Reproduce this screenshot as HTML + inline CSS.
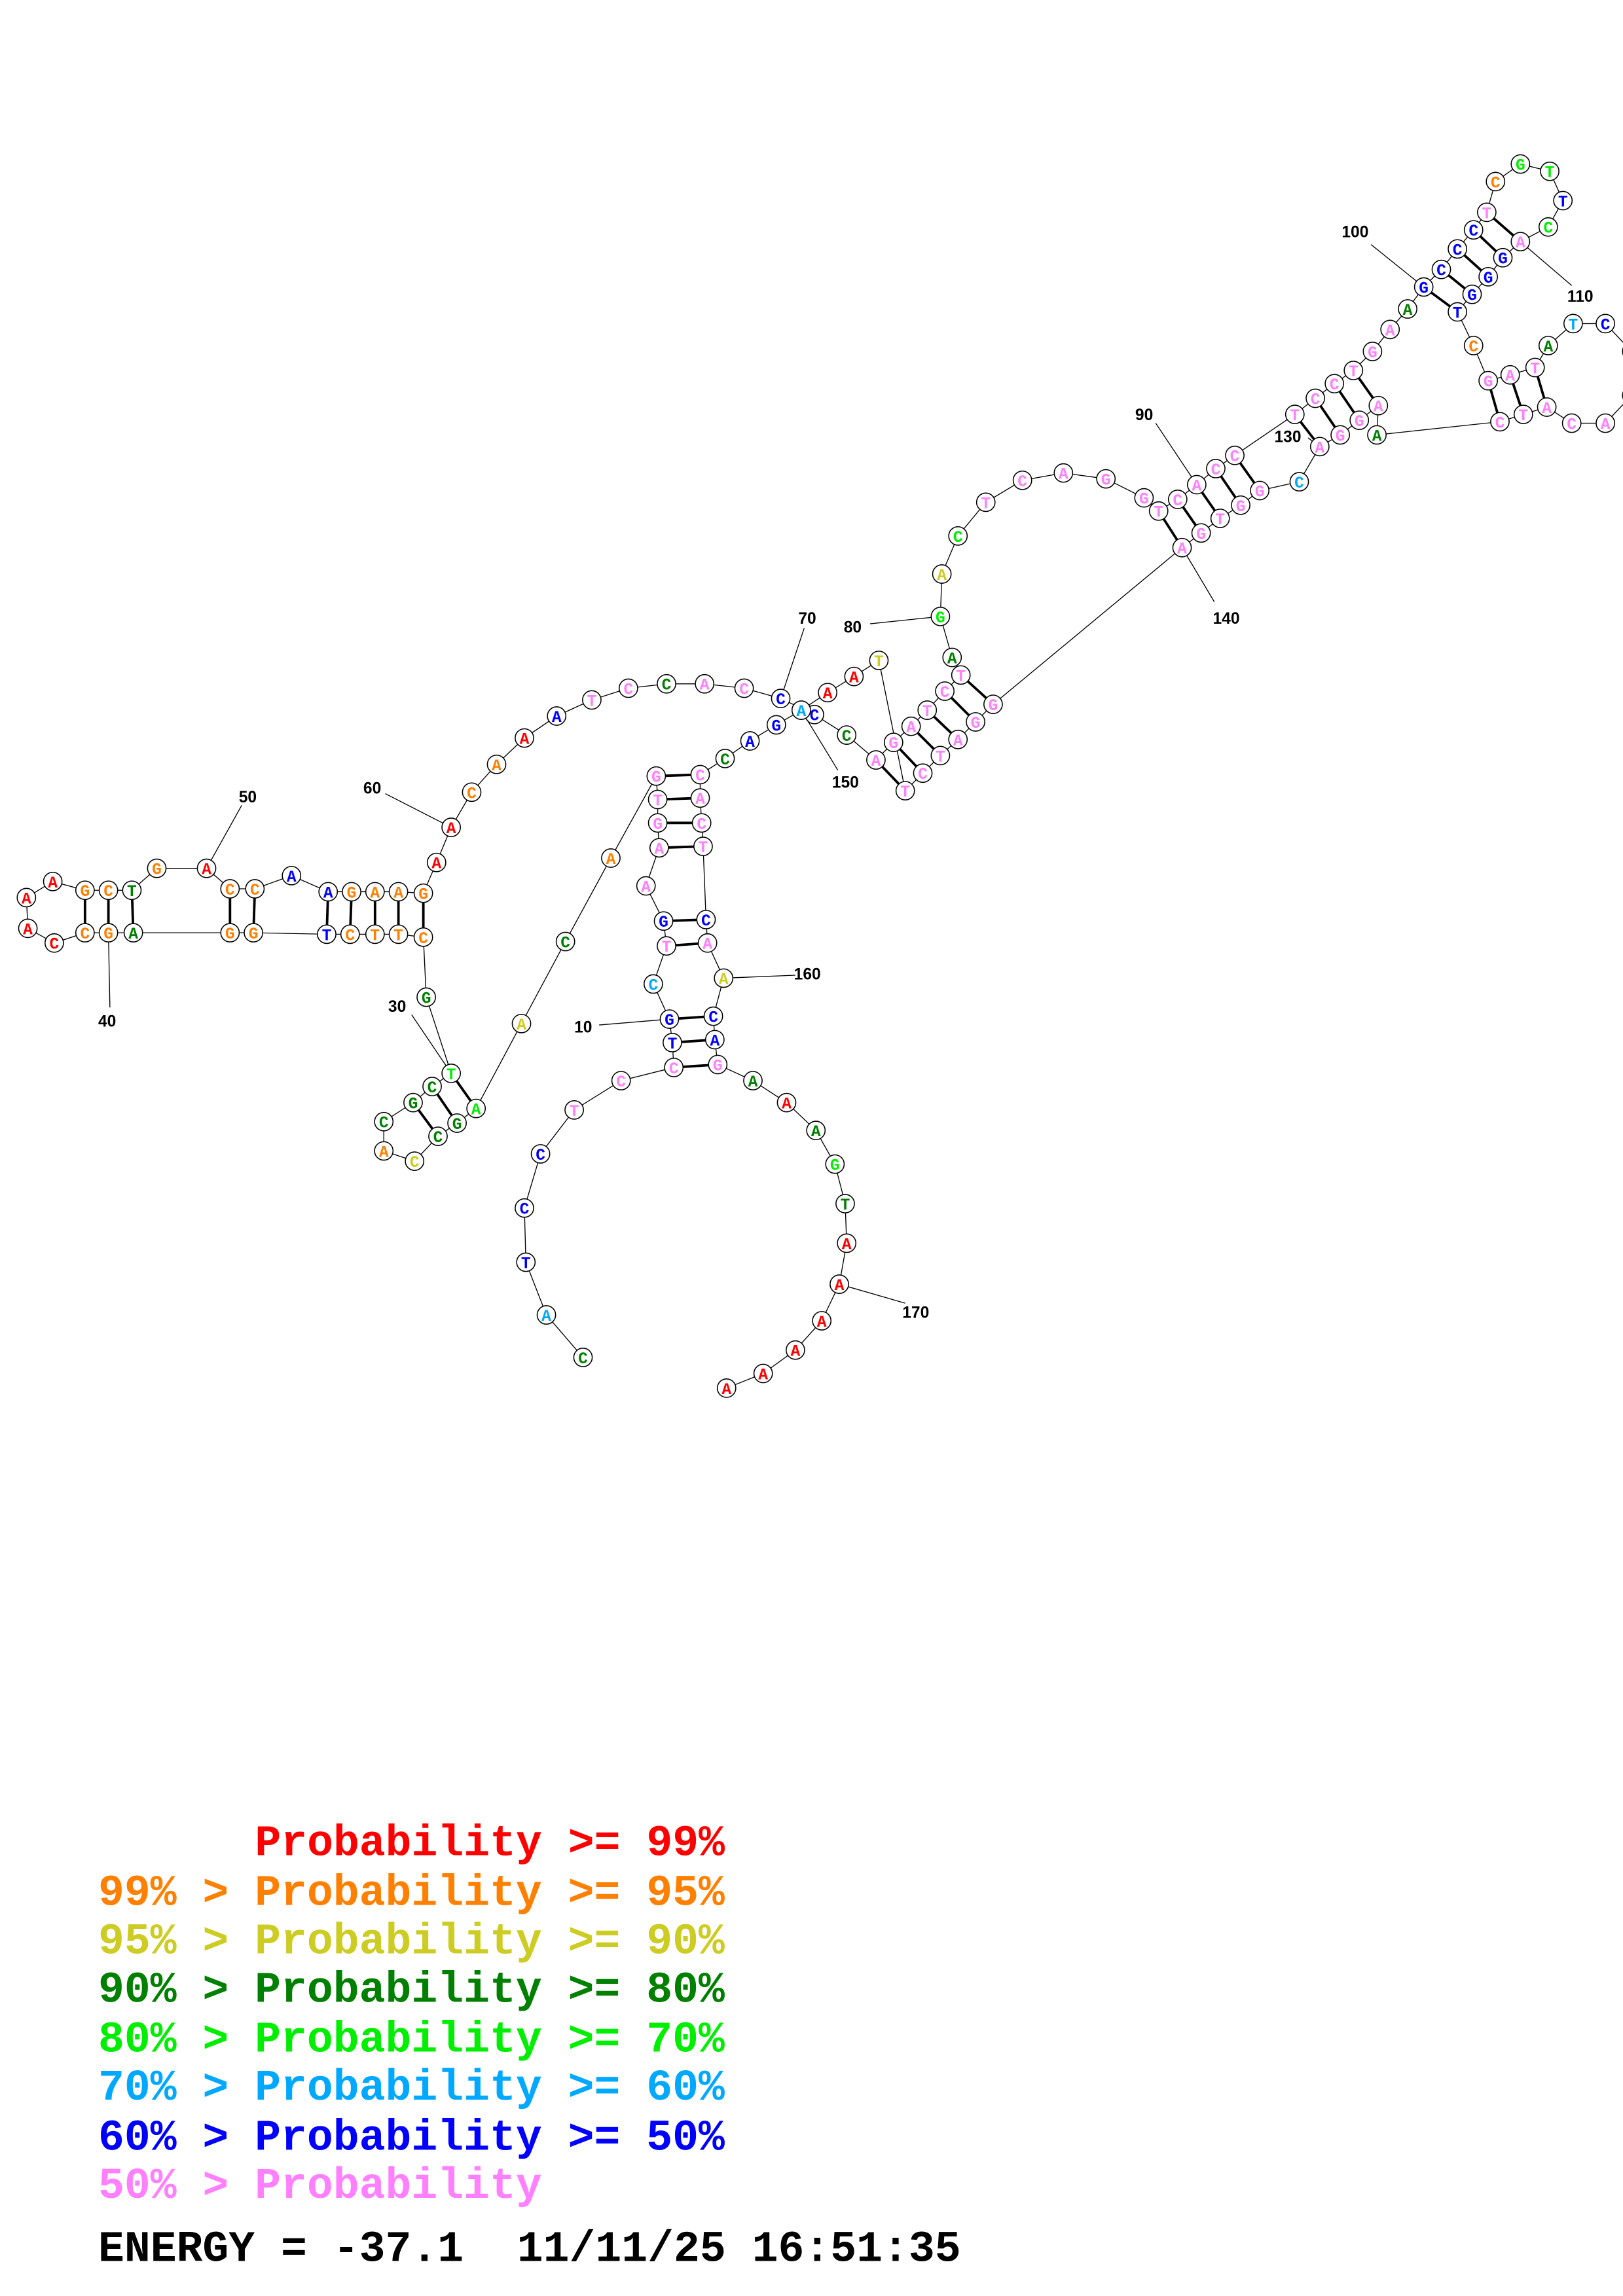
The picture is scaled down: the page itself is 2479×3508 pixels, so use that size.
<!DOCTYPE html>
<html><head><meta charset="utf-8"><style>
html,body{margin:0;padding:0;background:#fff;}
svg{display:block}
.n circle{fill:#fff;stroke:#000;stroke-width:0.7}
.n text{font-family:"Liberation Mono",monospace;font-weight:bold;font-size:11px;text-anchor:middle}
.lab{font-family:"Liberation Sans",sans-serif;font-weight:bold;font-size:11px;fill:#000}
.leg{font-family:"Liberation Mono",monospace;font-weight:bold;font-size:29.7px}
</style></head><body>
<svg width="2479" height="3508" viewBox="0 0 1108 1568" xmlns="http://www.w3.org/2000/svg">
<rect width="1108" height="1568" fill="#fff"/>
<polyline fill="none" stroke="#000" stroke-width="0.6" points="398,927 373,898 359,862 358,825 369,788 392,758 424,738 460,729 459,712 457,696 446,672 455,646 453,629 441,605 450,579 449,562 449,546 448,530 417,586 386,643 356,699 325,757 312,767 299,776 283,793 262,786 262,766 282,753 295,742 308,733 291,681 289,640 272,638 256,638 239,638 223,638 173,637 157,637 91,637 74,637 58,637 37,644 19,634 18,613 36,602 58,608 74,608 90,608 107,593 141,593 157,607 174,607 199,598 224,609 240,609 256,609 272,609 289,610 298,589 308,565 322,541 339,522 358,504 380,489 404,478 429,470 455,467 481,467 508,470 533,477 556,488 578,502 598,519 610,507 622,496 633,485 645,472 656,461 650,449 642,421 643,392 654,366 673,343 698,328 726,323 755,327 781,340 791,349 804,341 817,331 830,320 843,311 884,283 898,272 911,262 924,253 937,240 949,225 961,211 972,196 984,184 995,170 1006,157 1015,145 1021,124 1038,112 1058,117 1067,137 1057,155 1038,165 1026,176 1016,189 1005,201 995,213 1006,236 1016,260 1031,256 1048,251 1057,236 1074,221 1096,221 1114,240 1114,270 1096,289 1073,289 1056,278 1040,283 1024,288 940,297 941,277 928,287 915,297 901,305 887,329 860,335 847,345 833,354 820,364 807,374 678,481 666,493 654,505 642,516 630,528 618,540 600,451 583,462 565,473 547,485 530,495 512,506 495,518 478,529 478,545 479,562 480,578 482,628 483,644 494,668 487,694 488,710 490,727 514,738 537,753 557,772 570,795 577,822 578,849 573,877 561,902 543,922 521,938 496,948"/>
<g stroke="#000" stroke-width="1.7">
<line x1="460" y1="729" x2="490" y2="727"/><line x1="459" y1="712" x2="488" y2="710"/><line x1="457" y1="696" x2="487" y2="694"/>
<line x1="455" y1="646" x2="483" y2="644"/><line x1="453" y1="629" x2="482" y2="628"/>
<line x1="450" y1="579" x2="480" y2="578"/><line x1="449" y1="562" x2="479" y2="562"/><line x1="449" y1="546" x2="478" y2="545"/><line x1="448" y1="530" x2="478" y2="529"/>
<line x1="325" y1="757" x2="308" y2="733"/><line x1="312" y1="767" x2="295" y2="742"/><line x1="299" y1="776" x2="282" y2="753"/>
<line x1="289" y1="640" x2="289" y2="610"/><line x1="272" y1="638" x2="272" y2="609"/><line x1="256" y1="638" x2="256" y2="609"/><line x1="239" y1="638" x2="240" y2="609"/><line x1="223" y1="638" x2="224" y2="609"/>
<line x1="173" y1="637" x2="174" y2="607"/><line x1="157" y1="637" x2="157" y2="607"/>
<line x1="91" y1="637" x2="90" y2="608"/><line x1="74" y1="637" x2="74" y2="608"/><line x1="58" y1="637" x2="58" y2="608"/>
<line x1="598" y1="519" x2="618" y2="540"/><line x1="610" y1="507" x2="630" y2="528"/><line x1="622" y1="496" x2="642" y2="516"/><line x1="633" y1="485" x2="654" y2="505"/><line x1="645" y1="472" x2="666" y2="493"/><line x1="656" y1="461" x2="678" y2="481"/>
<line x1="791" y1="349" x2="807" y2="374"/><line x1="804" y1="341" x2="820" y2="364"/><line x1="817" y1="331" x2="833" y2="354"/><line x1="830" y1="320" x2="847" y2="345"/><line x1="843" y1="311" x2="860" y2="335"/>
<line x1="884" y1="283" x2="901" y2="305"/><line x1="898" y1="272" x2="915" y2="297"/><line x1="911" y1="262" x2="928" y2="287"/><line x1="924" y1="253" x2="941" y2="277"/>
<line x1="972" y1="196" x2="995" y2="213"/><line x1="984" y1="184" x2="1005" y2="201"/><line x1="995" y1="170" x2="1016" y2="189"/><line x1="1006" y1="157" x2="1026" y2="176"/><line x1="1015" y1="145" x2="1038" y2="165"/>
<line x1="1016" y1="260" x2="1024" y2="288"/><line x1="1031" y1="256" x2="1040" y2="283"/><line x1="1048" y1="251" x2="1056" y2="278"/>
</g>
<g stroke="#000" stroke-width="0.6">
<line x1="409" y1="700" x2="457" y2="696"/><line x1="281" y1="693" x2="308" y2="733"/><line x1="75" y1="688" x2="74" y2="637"/>
<line x1="165" y1="550" x2="141" y2="593"/><line x1="263" y1="542" x2="308" y2="565"/><line x1="549" y1="429" x2="533" y2="477"/>
<line x1="594" y1="426" x2="642" y2="421"/><line x1="789" y1="289" x2="817" y2="331"/><line x1="936" y1="167" x2="972" y2="196"/>
<line x1="1073" y1="195" x2="1038" y2="165"/><line x1="893" y1="299" x2="901" y2="305"/><line x1="829" y1="411" x2="807" y2="374"/>
<line x1="572" y1="526" x2="547" y2="485"/><line x1="543" y1="666" x2="494" y2="668"/><line x1="618" y1="890" x2="573" y2="877"/>
</g>
<g class="lab">
<text x="392" y="705">10</text><text x="265" y="691">30</text><text x="67" y="701">40</text><text x="163" y="548">50</text>
<text x="248" y="542">60</text><text x="545" y="426">70</text><text x="576" y="432">80</text><text x="775" y="287">90</text>
<text x="916" y="162">100</text><text x="1070" y="206">110</text><text x="870" y="302">130</text><text x="828" y="426">140</text>
<text x="568" y="538">150</text><text x="542" y="669">160</text><text x="616" y="900">170</text>
</g>
<g class="n">
<g fill="#008000"><circle cx="398" cy="927" r="6.3"/><text x="398" y="931">C</text></g>
<g fill="#00a8ff"><circle cx="373" cy="898" r="6.3"/><text x="373" y="902">A</text></g>
<g fill="#0000ff"><circle cx="359" cy="862" r="6.3"/><text x="359" y="866">T</text></g>
<g fill="#0000ff"><circle cx="358" cy="825" r="6.3"/><text x="358" y="829">C</text></g>
<g fill="#0000ff"><circle cx="369" cy="788" r="6.3"/><text x="369" y="792">C</text></g>
<g fill="#ff80ff"><circle cx="392" cy="758" r="6.3"/><text x="392" y="762">T</text></g>
<g fill="#ff80ff"><circle cx="424" cy="738" r="6.3"/><text x="424" y="742">C</text></g>
<g fill="#ff80ff"><circle cx="460" cy="729" r="6.3"/><text x="460" y="733">C</text></g>
<g fill="#0000ff"><circle cx="459" cy="712" r="6.3"/><text x="459" y="716">T</text></g>
<g fill="#0000ff"><circle cx="457" cy="696" r="6.3"/><text x="457" y="700">G</text></g>
<g fill="#00a8ff"><circle cx="446" cy="672" r="6.3"/><text x="446" y="676">C</text></g>
<g fill="#ff80ff"><circle cx="455" cy="646" r="6.3"/><text x="455" y="650">T</text></g>
<g fill="#0000ff"><circle cx="453" cy="629" r="6.3"/><text x="453" y="633">G</text></g>
<g fill="#ff80ff"><circle cx="441" cy="605" r="6.3"/><text x="441" y="609">A</text></g>
<g fill="#ff80ff"><circle cx="450" cy="579" r="6.3"/><text x="450" y="583">A</text></g>
<g fill="#ff80ff"><circle cx="449" cy="562" r="6.3"/><text x="449" y="566">G</text></g>
<g fill="#ff80ff"><circle cx="449" cy="546" r="6.3"/><text x="449" y="550">T</text></g>
<g fill="#ff80ff"><circle cx="448" cy="530" r="6.3"/><text x="448" y="534">G</text></g>
<g fill="#ff8000"><circle cx="417" cy="586" r="6.3"/><text x="417" y="590">A</text></g>
<g fill="#008000"><circle cx="386" cy="643" r="6.3"/><text x="386" y="647">C</text></g>
<g fill="#cccc22"><circle cx="356" cy="699" r="6.3"/><text x="356" y="703">A</text></g>
<g fill="#00ee00"><circle cx="325" cy="757" r="6.3"/><text x="325" y="761">A</text></g>
<g fill="#008000"><circle cx="312" cy="767" r="6.3"/><text x="312" y="771">G</text></g>
<g fill="#008000"><circle cx="299" cy="776" r="6.3"/><text x="299" y="780">C</text></g>
<g fill="#cccc22"><circle cx="283" cy="793" r="6.3"/><text x="283" y="797">C</text></g>
<g fill="#ff8000"><circle cx="262" cy="786" r="6.3"/><text x="262" y="790">A</text></g>
<g fill="#008000"><circle cx="262" cy="766" r="6.3"/><text x="262" y="770">C</text></g>
<g fill="#008000"><circle cx="282" cy="753" r="6.3"/><text x="282" y="757">G</text></g>
<g fill="#008000"><circle cx="295" cy="742" r="6.3"/><text x="295" y="746">C</text></g>
<g fill="#00ee00"><circle cx="308" cy="733" r="6.3"/><text x="308" y="737">T</text></g>
<g fill="#008000"><circle cx="291" cy="681" r="6.3"/><text x="291" y="685">G</text></g>
<g fill="#ff8000"><circle cx="289" cy="640" r="6.3"/><text x="289" y="644">C</text></g>
<g fill="#ff8000"><circle cx="272" cy="638" r="6.3"/><text x="272" y="642">T</text></g>
<g fill="#ff8000"><circle cx="256" cy="638" r="6.3"/><text x="256" y="642">T</text></g>
<g fill="#ff8000"><circle cx="239" cy="638" r="6.3"/><text x="239" y="642">C</text></g>
<g fill="#0000ff"><circle cx="223" cy="638" r="6.3"/><text x="223" y="642">T</text></g>
<g fill="#ff8000"><circle cx="173" cy="637" r="6.3"/><text x="173" y="641">G</text></g>
<g fill="#ff8000"><circle cx="157" cy="637" r="6.3"/><text x="157" y="641">G</text></g>
<g fill="#008000"><circle cx="91" cy="637" r="6.3"/><text x="91" y="641">A</text></g>
<g fill="#ff8000"><circle cx="74" cy="637" r="6.3"/><text x="74" y="641">G</text></g>
<g fill="#ff8000"><circle cx="58" cy="637" r="6.3"/><text x="58" y="641">C</text></g>
<g fill="#ff0000"><circle cx="37" cy="644" r="6.3"/><text x="37" y="648">C</text></g>
<g fill="#ff0000"><circle cx="19" cy="634" r="6.3"/><text x="19" y="638">A</text></g>
<g fill="#ff0000"><circle cx="18" cy="613" r="6.3"/><text x="18" y="617">A</text></g>
<g fill="#ff0000"><circle cx="36" cy="602" r="6.3"/><text x="36" y="606">A</text></g>
<g fill="#ff8000"><circle cx="58" cy="608" r="6.3"/><text x="58" y="612">G</text></g>
<g fill="#ff8000"><circle cx="74" cy="608" r="6.3"/><text x="74" y="612">C</text></g>
<g fill="#008000"><circle cx="90" cy="608" r="6.3"/><text x="90" y="612">T</text></g>
<g fill="#ff8000"><circle cx="107" cy="593" r="6.3"/><text x="107" y="597">G</text></g>
<g fill="#ff0000"><circle cx="141" cy="593" r="6.3"/><text x="141" y="597">A</text></g>
<g fill="#ff8000"><circle cx="157" cy="607" r="6.3"/><text x="157" y="611">C</text></g>
<g fill="#ff8000"><circle cx="174" cy="607" r="6.3"/><text x="174" y="611">C</text></g>
<g fill="#0000ff"><circle cx="199" cy="598" r="6.3"/><text x="199" y="602">A</text></g>
<g fill="#0000ff"><circle cx="224" cy="609" r="6.3"/><text x="224" y="613">A</text></g>
<g fill="#ff8000"><circle cx="240" cy="609" r="6.3"/><text x="240" y="613">G</text></g>
<g fill="#ff8000"><circle cx="256" cy="609" r="6.3"/><text x="256" y="613">A</text></g>
<g fill="#ff8000"><circle cx="272" cy="609" r="6.3"/><text x="272" y="613">A</text></g>
<g fill="#ff8000"><circle cx="289" cy="610" r="6.3"/><text x="289" y="614">G</text></g>
<g fill="#ff0000"><circle cx="298" cy="589" r="6.3"/><text x="298" y="593">A</text></g>
<g fill="#ff0000"><circle cx="308" cy="565" r="6.3"/><text x="308" y="569">A</text></g>
<g fill="#ff8000"><circle cx="322" cy="541" r="6.3"/><text x="322" y="545">C</text></g>
<g fill="#ff8000"><circle cx="339" cy="522" r="6.3"/><text x="339" y="526">A</text></g>
<g fill="#ff0000"><circle cx="358" cy="504" r="6.3"/><text x="358" y="508">A</text></g>
<g fill="#0000ff"><circle cx="380" cy="489" r="6.3"/><text x="380" y="493">A</text></g>
<g fill="#ff80ff"><circle cx="404" cy="478" r="6.3"/><text x="404" y="482">T</text></g>
<g fill="#ff80ff"><circle cx="429" cy="470" r="6.3"/><text x="429" y="474">C</text></g>
<g fill="#008000"><circle cx="455" cy="467" r="6.3"/><text x="455" y="471">C</text></g>
<g fill="#ff80ff"><circle cx="481" cy="467" r="6.3"/><text x="481" y="471">A</text></g>
<g fill="#ff80ff"><circle cx="508" cy="470" r="6.3"/><text x="508" y="474">C</text></g>
<g fill="#0000ff"><circle cx="533" cy="477" r="6.3"/><text x="533" y="481">C</text></g>
<g fill="#0000ff"><circle cx="556" cy="488" r="6.3"/><text x="556" y="492">C</text></g>
<g fill="#008000"><circle cx="578" cy="502" r="6.3"/><text x="578" y="506">C</text></g>
<g fill="#ff80ff"><circle cx="598" cy="519" r="6.3"/><text x="598" y="523">A</text></g>
<g fill="#ff80ff"><circle cx="610" cy="507" r="6.3"/><text x="610" y="511">G</text></g>
<g fill="#ff80ff"><circle cx="622" cy="496" r="6.3"/><text x="622" y="500">A</text></g>
<g fill="#ff80ff"><circle cx="633" cy="485" r="6.3"/><text x="633" y="489">T</text></g>
<g fill="#ff80ff"><circle cx="645" cy="472" r="6.3"/><text x="645" y="476">C</text></g>
<g fill="#ff80ff"><circle cx="656" cy="461" r="6.3"/><text x="656" y="465">T</text></g>
<g fill="#008000"><circle cx="650" cy="449" r="6.3"/><text x="650" y="453">A</text></g>
<g fill="#00ee00"><circle cx="642" cy="421" r="6.3"/><text x="642" y="425">G</text></g>
<g fill="#cccc22"><circle cx="643" cy="392" r="6.3"/><text x="643" y="396">A</text></g>
<g fill="#00ee00"><circle cx="654" cy="366" r="6.3"/><text x="654" y="370">C</text></g>
<g fill="#ff80ff"><circle cx="673" cy="343" r="6.3"/><text x="673" y="347">T</text></g>
<g fill="#ff80ff"><circle cx="698" cy="328" r="6.3"/><text x="698" y="332">C</text></g>
<g fill="#ff80ff"><circle cx="726" cy="323" r="6.3"/><text x="726" y="327">A</text></g>
<g fill="#ff80ff"><circle cx="755" cy="327" r="6.3"/><text x="755" y="331">G</text></g>
<g fill="#ff80ff"><circle cx="781" cy="340" r="6.3"/><text x="781" y="344">G</text></g>
<g fill="#ff80ff"><circle cx="791" cy="349" r="6.3"/><text x="791" y="353">T</text></g>
<g fill="#ff80ff"><circle cx="804" cy="341" r="6.3"/><text x="804" y="345">C</text></g>
<g fill="#ff80ff"><circle cx="817" cy="331" r="6.3"/><text x="817" y="335">A</text></g>
<g fill="#ff80ff"><circle cx="830" cy="320" r="6.3"/><text x="830" y="324">C</text></g>
<g fill="#ff80ff"><circle cx="843" cy="311" r="6.3"/><text x="843" y="315">C</text></g>
<g fill="#ff80ff"><circle cx="884" cy="283" r="6.3"/><text x="884" y="287">T</text></g>
<g fill="#ff80ff"><circle cx="898" cy="272" r="6.3"/><text x="898" y="276">C</text></g>
<g fill="#ff80ff"><circle cx="911" cy="262" r="6.3"/><text x="911" y="266">C</text></g>
<g fill="#ff80ff"><circle cx="924" cy="253" r="6.3"/><text x="924" y="257">T</text></g>
<g fill="#ff80ff"><circle cx="937" cy="240" r="6.3"/><text x="937" y="244">G</text></g>
<g fill="#ff80ff"><circle cx="949" cy="225" r="6.3"/><text x="949" y="229">A</text></g>
<g fill="#008000"><circle cx="961" cy="211" r="6.3"/><text x="961" y="215">A</text></g>
<g fill="#0000ff"><circle cx="972" cy="196" r="6.3"/><text x="972" y="200">G</text></g>
<g fill="#0000ff"><circle cx="984" cy="184" r="6.3"/><text x="984" y="188">C</text></g>
<g fill="#0000ff"><circle cx="995" cy="170" r="6.3"/><text x="995" y="174">C</text></g>
<g fill="#0000ff"><circle cx="1006" cy="157" r="6.3"/><text x="1006" y="161">C</text></g>
<g fill="#ff80ff"><circle cx="1015" cy="145" r="6.3"/><text x="1015" y="149">T</text></g>
<g fill="#ff8000"><circle cx="1021" cy="124" r="6.3"/><text x="1021" y="128">C</text></g>
<g fill="#00ee00"><circle cx="1038" cy="112" r="6.3"/><text x="1038" y="116">G</text></g>
<g fill="#00ee00"><circle cx="1058" cy="117" r="6.3"/><text x="1058" y="121">T</text></g>
<g fill="#0000ff"><circle cx="1067" cy="137" r="6.3"/><text x="1067" y="141">T</text></g>
<g fill="#00ee00"><circle cx="1057" cy="155" r="6.3"/><text x="1057" y="159">C</text></g>
<g fill="#ff80ff"><circle cx="1038" cy="165" r="6.3"/><text x="1038" y="169">A</text></g>
<g fill="#0000ff"><circle cx="1026" cy="176" r="6.3"/><text x="1026" y="180">G</text></g>
<g fill="#0000ff"><circle cx="1016" cy="189" r="6.3"/><text x="1016" y="193">G</text></g>
<g fill="#0000ff"><circle cx="1005" cy="201" r="6.3"/><text x="1005" y="205">G</text></g>
<g fill="#0000ff"><circle cx="995" cy="213" r="6.3"/><text x="995" y="217">T</text></g>
<g fill="#ff8000"><circle cx="1006" cy="236" r="6.3"/><text x="1006" y="240">C</text></g>
<g fill="#ff80ff"><circle cx="1016" cy="260" r="6.3"/><text x="1016" y="264">G</text></g>
<g fill="#ff80ff"><circle cx="1031" cy="256" r="6.3"/><text x="1031" y="260">A</text></g>
<g fill="#ff80ff"><circle cx="1048" cy="251" r="6.3"/><text x="1048" y="255">T</text></g>
<g fill="#008000"><circle cx="1057" cy="236" r="6.3"/><text x="1057" y="240">A</text></g>
<g fill="#00a8ff"><circle cx="1074" cy="221" r="6.3"/><text x="1074" y="225">T</text></g>
<g fill="#0000ff"><circle cx="1096" cy="221" r="6.3"/><text x="1096" y="225">C</text></g>
<g fill="#ff80ff"><circle cx="1114" cy="240" r="6.3"/></g>
<g fill="#ff80ff"><circle cx="1114" cy="270" r="6.3"/></g>
<g fill="#ff80ff"><circle cx="1096" cy="289" r="6.3"/><text x="1096" y="293">A</text></g>
<g fill="#ff80ff"><circle cx="1073" cy="289" r="6.3"/><text x="1073" y="293">C</text></g>
<g fill="#ff80ff"><circle cx="1056" cy="278" r="6.3"/><text x="1056" y="282">A</text></g>
<g fill="#ff80ff"><circle cx="1040" cy="283" r="6.3"/><text x="1040" y="287">T</text></g>
<g fill="#ff80ff"><circle cx="1024" cy="288" r="6.3"/><text x="1024" y="292">C</text></g>
<g fill="#008000"><circle cx="940" cy="297" r="6.3"/><text x="940" y="301">A</text></g>
<g fill="#ff80ff"><circle cx="941" cy="277" r="6.3"/><text x="941" y="281">A</text></g>
<g fill="#ff80ff"><circle cx="928" cy="287" r="6.3"/><text x="928" y="291">G</text></g>
<g fill="#ff80ff"><circle cx="915" cy="297" r="6.3"/><text x="915" y="301">G</text></g>
<g fill="#ff80ff"><circle cx="901" cy="305" r="6.3"/><text x="901" y="309">A</text></g>
<g fill="#00a8ff"><circle cx="887" cy="329" r="6.3"/><text x="887" y="333">C</text></g>
<g fill="#ff80ff"><circle cx="860" cy="335" r="6.3"/><text x="860" y="339">G</text></g>
<g fill="#ff80ff"><circle cx="847" cy="345" r="6.3"/><text x="847" y="349">G</text></g>
<g fill="#ff80ff"><circle cx="833" cy="354" r="6.3"/><text x="833" y="358">T</text></g>
<g fill="#ff80ff"><circle cx="820" cy="364" r="6.3"/><text x="820" y="368">G</text></g>
<g fill="#ff80ff"><circle cx="807" cy="374" r="6.3"/><text x="807" y="378">A</text></g>
<g fill="#ff80ff"><circle cx="678" cy="481" r="6.3"/><text x="678" y="485">G</text></g>
<g fill="#ff80ff"><circle cx="666" cy="493" r="6.3"/><text x="666" y="497">G</text></g>
<g fill="#ff80ff"><circle cx="654" cy="505" r="6.3"/><text x="654" y="509">A</text></g>
<g fill="#ff80ff"><circle cx="642" cy="516" r="6.3"/><text x="642" y="520">T</text></g>
<g fill="#ff80ff"><circle cx="630" cy="528" r="6.3"/><text x="630" y="532">C</text></g>
<g fill="#ff80ff"><circle cx="618" cy="540" r="6.3"/><text x="618" y="544">T</text></g>
<g fill="#cccc22"><circle cx="600" cy="451" r="6.3"/><text x="600" y="455">T</text></g>
<g fill="#ff0000"><circle cx="583" cy="462" r="6.3"/><text x="583" y="466">A</text></g>
<g fill="#ff0000"><circle cx="565" cy="473" r="6.3"/><text x="565" y="477">A</text></g>
<g fill="#00a8ff"><circle cx="547" cy="485" r="6.3"/><text x="547" y="489">A</text></g>
<g fill="#0000ff"><circle cx="530" cy="495" r="6.3"/><text x="530" y="499">G</text></g>
<g fill="#0000ff"><circle cx="512" cy="506" r="6.3"/><text x="512" y="510">A</text></g>
<g fill="#008000"><circle cx="495" cy="518" r="6.3"/><text x="495" y="522">C</text></g>
<g fill="#ff80ff"><circle cx="478" cy="529" r="6.3"/><text x="478" y="533">C</text></g>
<g fill="#ff80ff"><circle cx="478" cy="545" r="6.3"/><text x="478" y="549">A</text></g>
<g fill="#ff80ff"><circle cx="479" cy="562" r="6.3"/><text x="479" y="566">C</text></g>
<g fill="#ff80ff"><circle cx="480" cy="578" r="6.3"/><text x="480" y="582">T</text></g>
<g fill="#0000ff"><circle cx="482" cy="628" r="6.3"/><text x="482" y="632">C</text></g>
<g fill="#ff80ff"><circle cx="483" cy="644" r="6.3"/><text x="483" y="648">A</text></g>
<g fill="#cccc22"><circle cx="494" cy="668" r="6.3"/><text x="494" y="672">A</text></g>
<g fill="#0000ff"><circle cx="487" cy="694" r="6.3"/><text x="487" y="698">C</text></g>
<g fill="#0000ff"><circle cx="488" cy="710" r="6.3"/><text x="488" y="714">A</text></g>
<g fill="#ff80ff"><circle cx="490" cy="727" r="6.3"/><text x="490" y="731">G</text></g>
<g fill="#008000"><circle cx="514" cy="738" r="6.3"/><text x="514" y="742">A</text></g>
<g fill="#ff0000"><circle cx="537" cy="753" r="6.3"/><text x="537" y="757">A</text></g>
<g fill="#008000"><circle cx="557" cy="772" r="6.3"/><text x="557" y="776">A</text></g>
<g fill="#00ee00"><circle cx="570" cy="795" r="6.3"/><text x="570" y="799">G</text></g>
<g fill="#008000"><circle cx="577" cy="822" r="6.3"/><text x="577" y="826">T</text></g>
<g fill="#ff0000"><circle cx="578" cy="849" r="6.3"/><text x="578" y="853">A</text></g>
<g fill="#ff0000"><circle cx="573" cy="877" r="6.3"/><text x="573" y="881">A</text></g>
<g fill="#ff0000"><circle cx="561" cy="902" r="6.3"/><text x="561" y="906">A</text></g>
<g fill="#ff0000"><circle cx="543" cy="922" r="6.3"/><text x="543" y="926">A</text></g>
<g fill="#ff0000"><circle cx="521" cy="938" r="6.3"/><text x="521" y="942">A</text></g>
<g fill="#ff0000"><circle cx="496" cy="948" r="6.3"/><text x="496" y="952">A</text></g>
</g>
<g class="leg">
<text x="174" y="1267" fill="#ff0000">Probability &gt;= 99%</text>
<text x="67" y="1301" fill="#ff8000">99% &gt; Probability &gt;= 95%</text>
<text x="67" y="1334" fill="#cccc22">95% &gt; Probability &gt;= 90%</text>
<text x="67" y="1367" fill="#008000">90% &gt; Probability &gt;= 80%</text>
<text x="67" y="1401" fill="#00ee00">80% &gt; Probability &gt;= 70%</text>
<text x="67" y="1434" fill="#00a8ff">70% &gt; Probability &gt;= 60%</text>
<text x="67" y="1468" fill="#0000ff">60% &gt; Probability &gt;= 50%</text>
<text x="67" y="1501" fill="#ff80ff">50% &gt; Probability</text>
<text x="67" y="1544" fill="#000">ENERGY = -37.1</text>
<text x="353" y="1544" fill="#000">11/11/25 16:51:35</text>
</g>
</svg>
</body></html>
